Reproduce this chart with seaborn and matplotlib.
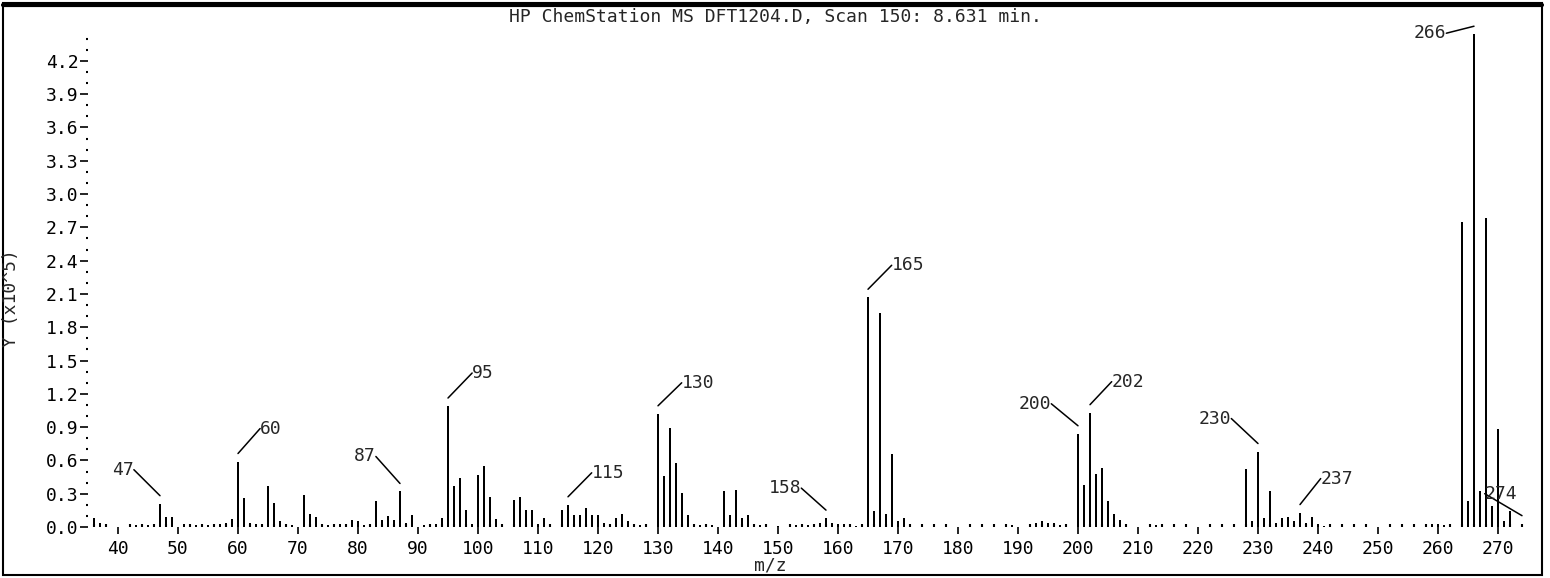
import matplotlib
matplotlib.use("Agg")
import matplotlib.pyplot as plt
import matplotlib.transforms as mtransforms
from matplotlib.lines import Line2D
from matplotlib.patches import Rectangle
from matplotlib.ticker import MultipleLocator, FormatStrFormatter
import seaborn as sns
import pandas as pd

# mass spectrum, scan 150 (abundance in units of 1e5)
mz = [36, 37, 43, 45, 47, 48, 49, 51, 52, 53, 55, 57, 58, 59,
      60, 61, 62, 63, 65, 66, 67, 69, 71, 72, 73, 74, 75, 77, 79, 80, 81,
      83, 84, 85, 86, 87, 88, 89, 91, 93, 94,
      95, 96, 97, 98, 99, 100, 101, 102, 103, 104, 106, 107, 108, 109, 110,
      111, 112, 114, 115, 116, 117, 118, 119, 120, 121, 123, 124, 125, 126, 127,
      130, 131, 132, 133, 134, 135, 136, 137, 139, 141, 142, 143, 144, 145, 146, 147,
      150, 152, 153, 154, 155, 156, 157, 158, 159, 160, 161, 162, 163,
      165, 166, 167, 168, 169, 170, 171, 172, 176, 178, 184, 189,
      192, 193, 194, 195, 196, 197,
      200, 201, 202, 203, 204, 205, 206, 207, 208, 213, 226,
      228, 229, 230, 231, 232, 233, 234, 235, 236, 237, 238, 239, 240, 241,
      258, 259, 260, 261, 264, 265, 266, 267, 268, 269, 270, 271, 272, 274]
abundance = [0.08, 0.04, 0.02, 0.02, 0.21, 0.09, 0.09, 0.03, 0.02, 0.02, 0.02, 0.03, 0.04, 0.07,
             0.59, 0.26, 0.04, 0.03, 0.37, 0.22, 0.05, 0.02, 0.29, 0.12, 0.09, 0.03, 0.02, 0.03, 0.06, 0.05, 0.02,
             0.23, 0.06, 0.10, 0.06, 0.32, 0.04, 0.11, 0.02, 0.03, 0.08,
             1.09, 0.37, 0.44, 0.15, 0.03, 0.47, 0.55, 0.27, 0.07, 0.03, 0.24, 0.27, 0.15, 0.15, 0.03,
             0.08, 0.03, 0.15, 0.20, 0.11, 0.11, 0.17, 0.11, 0.11, 0.04, 0.08, 0.12, 0.05, 0.03, 0.02,
             1.02, 0.46, 0.89, 0.58, 0.31, 0.11, 0.03, 0.02, 0.02, 0.32, 0.11, 0.33, 0.08, 0.11, 0.03, 0.02,
             0.01, 0.02, 0.02, 0.02, 0.02, 0.03, 0.04, 0.08, 0.04, 0.03, 0.03, 0.02, 0.01,
             2.07, 0.14, 1.93, 0.12, 0.66, 0.05, 0.08, 0.02, 0.02, 0.02, 0.01, 0.02,
             0.03, 0.04, 0.05, 0.04, 0.04, 0.02,
             0.84, 0.38, 1.03, 0.48, 0.53, 0.23, 0.12, 0.06, 0.02, 0.02, 0.01,
             0.52, 0.05, 0.68, 0.08, 0.32, 0.04, 0.08, 0.09, 0.05, 0.13, 0.04, 0.09, 0.03, 0.01,
             0.02, 0.03, 0.03, 0.02, 2.75, 0.23, 4.44, 0.32, 2.78, 0.19, 0.88, 0.05, 0.14, 0.03]

labeled = [47, 60, 87, 95, 115, 130, 158, 165, 200, 202, 230, 237, 266, 274]

title = "HP ChemStation MS DFT1204.D, Scan 150: 8.631 min."

df = pd.DataFrame({"mz": mz, "abundance": abundance})

sns.set_style("white")
plt.rcParams["font.family"] = ["DejaVu Sans Mono"]
FS = 13

W, H = 1550, 578
fig = plt.figure(figsize=(W / 100, H / 100), dpi=100)
ax = fig.add_axes([88 / W, (H - 527) / H, (1525 - 88) / W, (527 - 32) / H])

sns.barplot(data=df, x="mz", y="abundance", native_scale=True, width=0.32,
            color="black", saturation=1, errorbar=None, linewidth=0, ax=ax)

for s in ax.spines.values():
    s.set_visible(False)

ax.xaxis.set_major_locator(MultipleLocator(10))
ax.xaxis.set_minor_locator(MultipleLocator(2))
ax.yaxis.set_major_locator(MultipleLocator(0.3))
ax.yaxis.set_minor_locator(MultipleLocator(0.1))
ax.yaxis.set_major_formatter(FormatStrFormatter("%.1f"))
ax.set_xlim(35, 274.5)
ax.set_ylim(0, 4.46)
ax.tick_params(which="both", bottom=True, left=True, top=False, right=False,
               colors="black", labelsize=FS)
ax.tick_params(axis="x", which="major", direction="out", length=5, width=1.2, pad=4)
ax.tick_params(axis="x", which="minor", direction="in", length=2, width=1.5)
ax.tick_params(axis="y", which="major", direction="out", length=6, width=1.2, pad=1)
ax.tick_params(axis="y", which="minor", direction="out", length=1.5, width=1.5)
ax.set_xlabel("")
ax.set_ylabel("")

# peak labels: text offset (px) from the line end, which sits 8 px above the peak
offsets = {47: (-37, 26), 60: (33, 25), 87: (-35, 27), 95: (35, 25), 115: (40, 24),
           130: (40, 23), 158: (-41, 22), 165: (40, 24), 200: (-43, 22), 202: (38, 23),
           230: (-43, 25), 237: (37, 26), 266: (-44, -7), 274: (-21, 22)}
lift = mtransforms.offset_copy(ax.transData, fig=fig, x=0, y=8, units="dots")
peak_h = dict(zip(mz, abundance))
for m in labeled:
    dx, dy = offsets[m]
    ax.annotate(str(m), xy=(m, peak_h[m]), xycoords=lift,
                xytext=(dx, dy), textcoords="offset pixels",
                ha="center", va="center", fontsize=FS,
                arrowprops=dict(arrowstyle="-", color="black", lw=1.1,
                                shrinkA=0, shrinkB=0, patchA=None,
                                relpos=(0, 0.5) if dx > 0 or m == 274 else (1, 0.5)),
                annotation_clip=False)

fig.text(775 / W, 1 - 17 / H, title, ha="center", va="center", fontsize=FS)
fig.text(770 / W, 1 - 566 / H, "m/z", ha="center", va="center", fontsize=FS)
fig.text(11 / W, 1 - 298 / H, "Y (x10^5)", ha="center", va="center", rotation=90, fontsize=FS)

# outer frame
fig.add_artist(Rectangle((3 / W, 3 / H), (1542 - 3) / W, (575 - 3) / H,
                         transform=fig.transFigure, fill=False, lw=1.5, ec="black"))
fig.add_artist(Line2D([3 / W, 1542 / W], [1 - 5 / H, 1 - 5 / H],
                      transform=fig.transFigure, lw=3, color="black"))

fig.savefig("out.png", dpi=100, facecolor="white")
